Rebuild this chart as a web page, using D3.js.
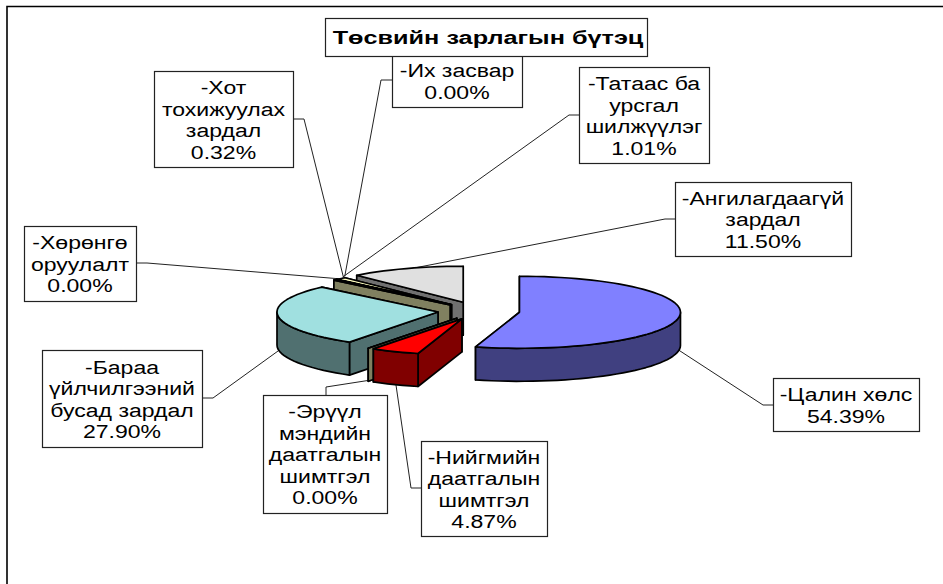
<!DOCTYPE html>
<html><head><meta charset="utf-8">
<script src="https://cdn.jsdelivr.net/npm/d3@7"></script>
<style>html,body{margin:0;padding:0;background:#fff}svg{display:block}</style>
</head><body><svg id="c" width="943" height="584"></svg>
<script>
const chartTitle = "Төсвийн зарлагын бүтэц";
const categories = ["Цалин хөлс","Нийгмийн даатгалын шимтгэл","Эрүүл мэндийн даатгалын шимтгэл","Бараа үйлчилгээний бусад зардал","Хөрөнгө оруулалт","Хот тохижуулах зардал","Их засвар","Татаас ба урсгал шилжүүлэг","Ангилагдаагүй зардал"];
const values = [54.39,4.87,0,27.90,0,0.32,0,1.01,11.50];
const topColors = ["#8080FF","#FF0000","#FFFFC0","#A0E0E0","#FFFFC0","#FFFFC0","#FFFFC0","#FFFFC0","#E0E0E0"];
const sideColors = ["#404080","#800000","#808060","#507070","#808060","#808060","#808060","#808060","#707070"];
const labelLines = [["-Цалин хөлс"],["-Нийгмийн","даатгалын","шимтгэл"],["-Эрүүл","мэндийн","даатгалын","шимтгэл"],["-Бараа","үйлчилгээний","бусад зардал"],["-Хөрөнгө","оруулалт"],["-Хот","тохижуулах","зардал"],["-Их засвар"],["-Татаас ба","урсгал","шилжүүлэг"],["-Ангилагдаагүй","зардал"]];

// layout, separate from the data
const W=943,H=584,cx=478,cy=311,rx=161,ry=36,depth=33;
const explodes=[.26,.24,.24,.25,.24,.24,.24,.24,.26];
const boxes=[[773,378,919,431],[421,441,547,536],[263,395,387,513],[42,350,202,447],[24,226,136,301],[154,71,293,167],[392,54,522,107],[579,67,709,163],[675,182,851,256]];
// leader: box attachment point, elbow, rim level (0 top, 1 bottom), anchor nudge
const leaders=[
 {from:[773,405],elbow:[763,405],lvl:1,n:[0,0]},
 {from:[421,488],elbow:[411,488],lvl:1,n:[1,0]},
 {from:[326,395],elbow:[326,387],lvl:1,n:[1,-1]},
 {from:[202,398],elbow:[213,398],lvl:1,n:[0,2]},
 {from:[136,263],elbow:[147,263],lvl:0,n:[9,-1]},
 {from:[293,119],elbow:[304,119],lvl:0,n:[8,-3]},
 {from:[392,80],elbow:[381,80],lvl:0,n:[8,-3]},
 {from:[579,115],elbow:[569,115],lvl:0,n:[1.5,-1.5]},
 {from:[675,219],elbow:[665,219],lvl:0,n:[0,1]}];
const FONT="'Liberation Sans',Arial,sans-serif";
const stretch=1.28, titleStretch=1.33;

const svg=d3.select("#c");
const pie=d3.pie().value(d=>d).sort(null);
const arcs=pie(values).map((a,i)=>({...a,i,mid:(a.startAngle+a.endAngle)/2}));
const sx=d3.scaleLinear().domain([-1,1]).range([cx-rx,cx+rx]);
const sy=d3.scaleLinear().domain([-1,1]).range([cy-ry,cy+ry]);
const center=a=>[Math.sin(a.mid)*explodes[a.i],-Math.cos(a.mid)*explodes[a.i]];
const pt=(a,ang,r=1,dz=0)=>{const c=center(a);return [sx(c[0]+Math.sin(ang)*r),sy(c[1]-Math.cos(ang)*r)+dz];};
const line=d3.line();
const sample=(s,e)=>{const n=Math.max(1,Math.ceil((e-s)/(Math.PI/60)));return d3.range(n+1).map(k=>s+(e-s)*k/n);};

svg.append("rect").attr("width",W).attr("height",H).attr("fill","#fff");
svg.append("path").attr("d",line([[7,H],[7,6.5],[W,6.5]])).attr("fill","none").attr("stroke","#000").attr("stroke-width",1.6);

// leaders beneath the pie
const anchors=arcs.map((a,i)=>{const l=leaders[i];const p=pt(a,a.mid,1,l.lvl*depth);return [p[0]+l.n[0],p[1]+l.n[1]];});
svg.append("g").selectAll("path").data(leaders).join("path")
 .attr("d",(l,i)=>line([l.from,l.elbow,anchors[i]]))
 .attr("fill","none").attr("stroke","#222").attr("stroke-width",1);

// slices, back to front
const g=svg.append("g").attr("stroke","#000").attr("stroke-width",1.7).attr("stroke-linejoin","round");
const order=arcs.slice().reverse();
order.forEach(a=>{
  const s=a.startAngle,e=a.endAngle,v=pt(a,s,0);
  const wall=(ang)=>{const p=pt(a,ang);return [v,p,[p[0],p[1]+depth],[v[0],v[1]+depth]];};
  g.append("path").attr("d",line(wall(e))+"Z").attr("fill",sideColors[a.i]);
  g.append("path").attr("d",line(wall(s))+"Z").attr("fill",sideColors[a.i]);
  const ws=Math.max(s,Math.PI/2),we=Math.min(e,Math.PI*1.5);
  if(we>ws){
    const angs=sample(ws,we);
    const upper=angs.map(t=>pt(a,t));
    const lower=angs.slice().reverse().map(t=>pt(a,t,1,depth));
    g.append("path").attr("d",line(upper.concat(lower))+"Z").attr("fill",sideColors[a.i]);
  }
  const rim=sample(s,e).map(t=>pt(a,t));
  g.append("path").attr("d",line([v].concat(rim))+"Z").attr("fill",topColors[a.i]);
});

// label boxes
const fmt=d3.format(".2f");
const lab=svg.append("g").attr("font-family",FONT).attr("font-size",18).attr("fill","#000").attr("text-anchor","middle");
const LH=21.5;
arcs.forEach((a,i)=>{
  const b=boxes[i];
  lab.append("rect").attr("x",b[0]+.5).attr("y",b[1]+.5).attr("width",b[2]-b[0]).attr("height",b[3]-b[1])
    .attr("fill","#fff").attr("stroke","#222").attr("stroke-width",1.2);
  const lines=labelLines[i].concat([fmt(values[i])+"%"]);
  const mx=(b[0]+b[2])/2,top=(b[1]+b[3])/2-lines.length*LH/2;
  lines.forEach((t,k)=>lab.append("text").attr("transform",`translate(${mx},${top+LH*k+18}) scale(${stretch},1)`).text(t));
});
// title
svg.append("rect").attr("x",325.5).attr("y",18.5).attr("width",322).attr("height",38).attr("fill","#fff").attr("stroke","#222").attr("stroke-width",1.2);
svg.append("text").attr("transform",`translate(488,43.5) scale(${titleStretch},1)`).attr("text-anchor","middle").attr("font-family",FONT).attr("font-weight","bold").attr("font-size",19).attr("fill","#000").text(chartTitle);
</script></body></html>
